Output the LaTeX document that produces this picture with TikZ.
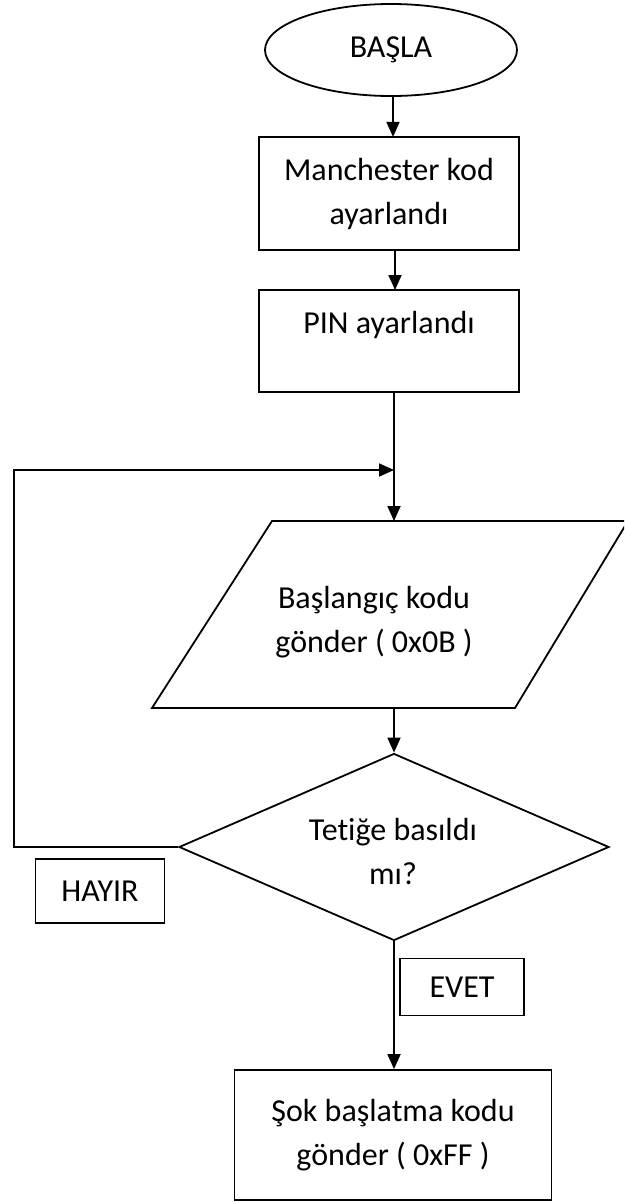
\documentclass[tikz,border=0pt]{standalone}
\usepackage{fontspec}
\setmainfont[Ligatures=CommonOff]{Carlito}
\usetikzlibrary{shapes.geometric,arrows.meta}
\begin{document}
\begin{tikzpicture}[x=1pt,y=-1pt,
  every node/.style={font=\fontsize{32}{44}\selectfont, align=center, inner sep=0pt},
  boxstyle/.style={draw, line width=1.8pt, rectangle},
  conn/.style={line width=1.8pt, -{Triangle[width=13pt,length=15pt]}},
  line/.style={line width=1.8pt}]
\useasboundingbox (0,0) rectangle (624,1202);
\begin{scope}
\clip (0,0) rectangle (624,1202);
\node[draw, line width=1.8pt, ellipse, minimum width=252pt, minimum height=92pt] (start) at (391,50) {\raisebox{-3pt}{BAŞLA}};
\node[boxstyle, minimum width=260pt, minimum height=113pt] (man) at (389,193.5) {Manchester kod\\ayarlandı};
\node[boxstyle, minimum width=260pt, minimum height=102pt] (pin) at (389,341) {PIN ayarlandı\\[-20pt]\strut};
% parallelogram
\draw[line width=1.8pt, line join=miter] (272,521) -- (628,521) -- (515,708) -- (152,708) -- cycle;
\node (para) at (374,622) {Başlangıç kodu\\gönder ( 0x0B )};
\coordinate (ptop) at (394,521);
\coordinate (pbot) at (394,708);
\coordinate (pinout) at (394,392);
\coordinate (join) at (394,470);
\node[draw, line width=1.8pt, diamond, aspect=2.3, minimum width=430pt, minimum height=187pt] (dec) at (394,847) {};
\node at (393,851) {Tetiğe basıldı\\mı?};
\node[boxstyle, minimum width=129pt, minimum height=64pt] (hayir) at (100,891) {HAYIR};
\node[boxstyle, minimum width=124pt, minimum height=57pt] (evet) at (462,987) {EVET};
\node[boxstyle, minimum width=317pt, minimum height=130pt] (sok) at (393,1135) {Şok başlatma kodu\\gönder ( 0xFF )};
\coordinate (lb) at (14,847);
\coordinate (lt) at (14,470);
\draw[conn] (start.south -| man.north) ++(4,0) -- ++(0,40);
\draw[conn] (395,250) -- (395,290);
\draw[conn] (pinout) -- (ptop);
\draw[conn] (dec.west) -- (lb) -- (lt) -- (join);
\draw[conn] (pbot) -- (dec.north);
\draw[conn] (dec.south) -- (dec.south |- sok.north);
\end{scope}
\end{tikzpicture}
\end{document}
